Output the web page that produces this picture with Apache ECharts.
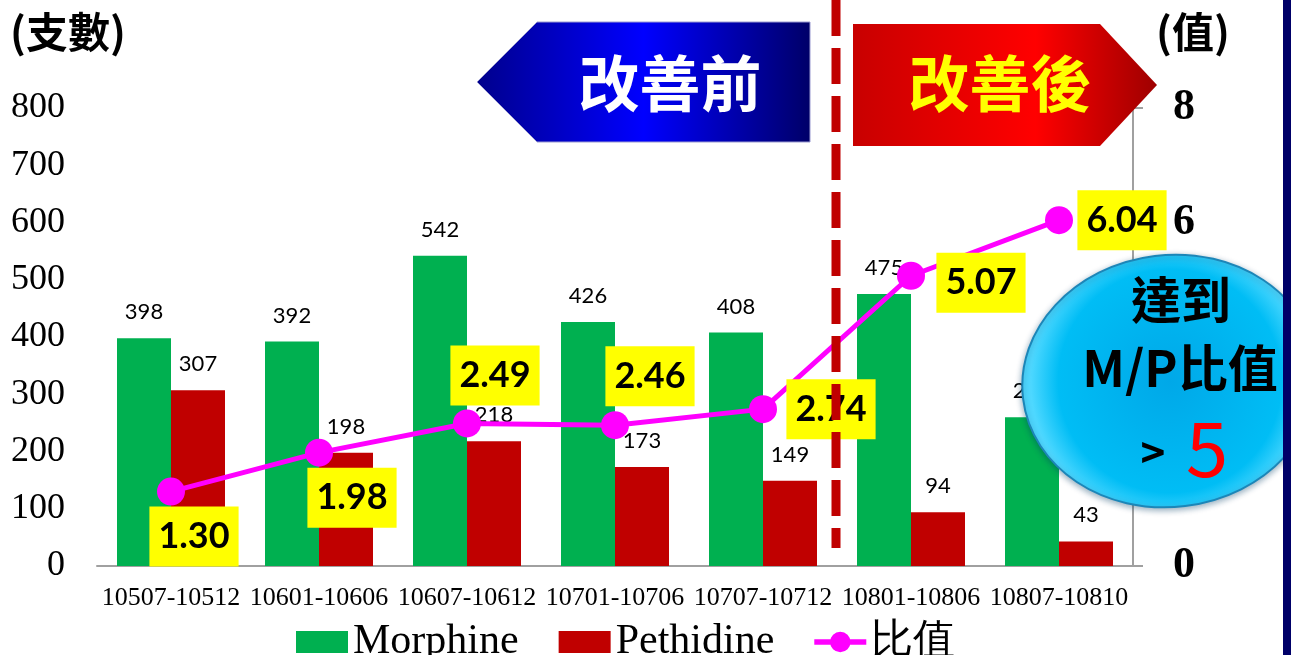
<!DOCTYPE html>
<html>
<head>
<meta charset="utf-8">
<script src="https://cdn.jsdelivr.net/npm/echarts@6/dist/echarts.min.js"></script>
<style>html,body{margin:0;padding:0;background:#fff;}#c{width:1291px;height:655px;}</style>
</head>
<body>
<div id="c"></div>
<script>
const categories = ['10507-10512','10601-10606','10607-10612','10701-10706','10707-10712','10801-10806','10807-10810'];
const morphine = [398, 392, 542, 426, 408, 475, 260];
const pethidine = [307, 198, 218, 173, 149, 94, 43];
const ratio = [1.30, 1.98, 2.49, 2.46, 2.74, 5.07, 6.04];
const leftTicks = [0, 100, 200, 300, 400, 500, 600, 700, 800];
const rightTicks = [0, 2, 4, 6, 8];
// label placement (styling, not data)
const ratioLabelOffsets = [[23,45],[33,45],[28,-48],[35,-49],[68,0],[70,7],[63,0]];

const chart = echarts.init(document.getElementById('c'));
const serif = '"Liberation Serif","Times New Roman",serif';
const cjk = '"Noto Sans CJK TC","Noto Sans",sans-serif';
const calib = 'Lato,"Noto Sans",sans-serif';
const lineIcon = 'path://M0,9L56,9L56,15L0,15Z M28,1A11,11 0 1,1 28,23A11,11 0 1,1 28,1Z';

const option = {
  animation: false,
  backgroundColor: '#ffffff',
  grid: { left: 97, right: 158, top: 108, bottom: 89, containLabel: false },
  legend: {
    left: 291, top: 616,
    itemWidth: 52, itemHeight: 22, itemGap: 40,
    textStyle: { fontFamily: serif, fontSize: 42, color: '#000' },
    data: [
      { name: 'Morphine', icon: 'rect' },
      { name: 'Pethidine', icon: 'rect' },
      { name: '比值', icon: lineIcon }
    ]
  },
  xAxis: {
    type: 'category',
    data: categories,
    axisLine: { lineStyle: { color: '#a0a0a0', width: 2 } },
    axisTick: { show: false },
    axisLabel: { fontFamily: serif, fontSize: 26, color: '#000', margin: 19, interval: 0 }
  },
  yAxis: [
    {
      type: 'value', min: leftTicks[0], max: leftTicks[leftTicks.length-1], interval: leftTicks[1]-leftTicks[0],
      axisLine: { show: false }, axisTick: { show: false }, splitLine: { show: false },
      axisLabel: { fontFamily: serif, fontSize: 36, color: '#000', margin: 32 }
    },
    {
      type: 'value', min: rightTicks[0], max: rightTicks[rightTicks.length-1], interval: rightTicks[1]-rightTicks[0],
      position: 'right',
      axisLine: { show: true, lineStyle: { color: '#a0a0a0', width: 2 } },
      axisTick: { show: true, length: 10, lineStyle: { color: '#a0a0a0', width: 2 } },
      splitLine: { show: false },
      axisLabel: { fontFamily: serif, fontSize: 44, fontWeight: 'bold', color: '#000', margin: 40 }
    }
  ],
  series: [
    {
      name: 'Morphine', type: 'bar', data: morphine, barWidth: 54, barGap: '0%',
      itemStyle: { color: '#00b050' },
      label: { show: true, position: 'top', distance: 15, fontFamily: calib, fontSize: 22, color: '#000' },
      z: 2
    },
    {
      name: 'Pethidine', type: 'bar', data: pethidine, barWidth: 54, barGap: '0%',
      itemStyle: { color: '#c00000' },
      label: { show: true, position: 'top', distance: 15, fontFamily: calib, fontSize: 22, color: '#000' },
      z: 2
    },
    {
      name: '比值', type: 'line', yAxisIndex: 1,
      data: ratio.map((v, i) => ({ value: v, label: { offset: ratioLabelOffsets[i] } })),
      symbol: 'circle', symbolSize: 28,
      lineStyle: { color: '#ff00ff', width: 5 },
      itemStyle: { color: '#ff00ff' },
      label: {
        show: true, position: 'inside',
        formatter: p => p.value.toFixed(2),
        fontFamily: calib, fontSize: 36, fontWeight: 'bold', color: '#000',
        backgroundColor: '#ffff00', padding: [12, 9, 12, 9]
      },
      z: 5
    }
  ],
  graphic: [
    { type: 'text', left: 10, top: 11, z: 50,
      style: { text: '(支數)', font: 'bold 42px ' + cjk, fill: '#000' } },
    { type: 'text', left: 1156, top: 11, z: 50,
      style: { text: '(值)', font: 'bold 42px ' + cjk, fill: '#000' } },
    { type: 'polygon', z: 60,
      shape: { points: [[477,82],[537,22],[810,22],[810,142],[537,142]] },
      style: { fill: new echarts.graphic.LinearGradient(0,0,1,0,[
        {offset:0,color:'#00008c'},{offset:0.5,color:'#0000ff'},{offset:1,color:'#000068'}]),
        stroke: '#9a9ad0', lineWidth: 1 } },
    { type: 'text', z: 61, x: 670, y: 84,
      style: { text: '改善前', font: 'bold 61px ' + cjk, fill: '#ffffff', align: 'center', verticalAlign: 'middle' } },
    { type: 'polygon', z: 60,
      shape: { points: [[853,24],[1100,24],[1157,85],[1100,146],[853,146]] },
      style: { fill: new echarts.graphic.LinearGradient(0,0,1,0,[
        {offset:0,color:'#c80000'},{offset:0.6,color:'#ff0000'},{offset:1,color:'#9e0000'}]) } },
    { type: 'text', z: 61, x: 1000, y: 84,
      style: { text: '改善後', font: 'bold 61px ' + cjk, fill: '#ffff00', align: 'center', verticalAlign: 'middle' } },
    { type: 'line', z: 100,
      shape: { x1: 836, y1: 0, x2: 836, y2: 548 },
      style: { stroke: '#c00000', lineWidth: 9, lineDash: [36, 12] } },
    { type: 'ellipse', z: 110, x: 1170, y: 381, rotation: 0.12,
      shape: { cx: 0, cy: 0, rx: 148, ry: 126 },
      style: { fill: new echarts.graphic.RadialGradient(0.5,0.5,0.55,[
        {offset:0,color:'#00a8e8'},{offset:0.8,color:'#00bdf5'},{offset:1,color:'#4fd8ff'}]),
        stroke: '#1c86b8', lineWidth: 2,
        shadowBlur: 6, shadowColor: 'rgba(0,60,100,0.4)', shadowOffsetY: 2 } },
    { type: 'text', z: 111, x: 1181, y: 300,
      style: { text: '達到', font: 'bold 50px ' + cjk, fill: '#000', align: 'center', verticalAlign: 'middle' } },
    { type: 'text', z: 111, x: 1180, y: 368,
      style: { text: 'M/P比值', font: 'bold 50px ' + cjk, fill: '#000', align: 'center', verticalAlign: 'middle' } },
    { type: 'text', z: 111, x: 1153, y: 452,
      style: { text: '>', font: 'bold 42px ' + cjk, fill: '#000', align: 'center', verticalAlign: 'middle' } },
    { type: 'text', z: 111, x: 1207, y: 448,
      style: { text: '5', font: '76px ' + cjk, fill: '#ff0000', align: 'center', verticalAlign: 'middle' } },
    { type: 'rect', z: 120, shape: { x: 1283, y: 0, width: 8, height: 655 },
      style: { fill: '#000068' } }
  ]
};
chart.setOption(option);
</script>
</body>
</html>
